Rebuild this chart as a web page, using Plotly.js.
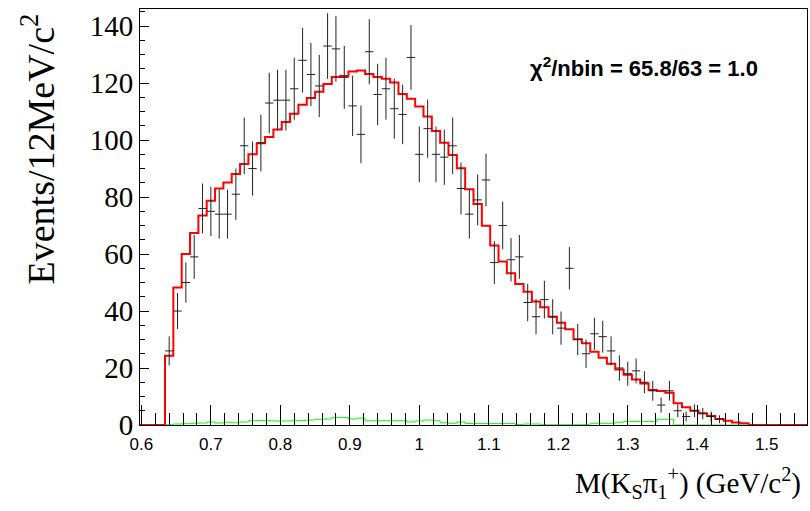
<!DOCTYPE html>
<html>
<head>
<meta charset="utf-8">
<script src="https://cdn.plot.ly/plotly-3.0.1.min.js"></script>
<style>html,body{margin:0;padding:0;background:#fff;}#chart{width:810px;height:511px;}</style>
</head>
<body>
<div id="chart"></div>
<script>
// Binning: 80 bins of 12 MeV
const binLow = 0.598;
const binWidth = 0.012;
const nBins = 80;
const firstDataBin = 3;

// Observed events per bin (starting at bin index 3)
const dataCounts = [26, 40, 50, 59, 76, 75, 74, 74, 81, 98,
  90, 99, 113, 114, 114, 118, 128, 123, 119, 133,
  132, 122, 112, 102, 131, 116, 118, 111, 109, 129,
  95, 104, 95, 94, 98, 83, 74, 79, 86, 57,
  70, 58, 59, 43, 38, 44, 38, 34, 55, 30,
  25, 32, 31, 26, 20, 18, 19, 15, 12, 7,
  12, 5, 3, 5, 4, 3, 2];
const dataErrors = [5.10, 6.32, 7.07, 7.68, 8.72, 8.66, 8.60, 8.60, 9.00, 9.90,
  9.49, 9.95, 10.63, 10.68, 10.68, 10.86, 11.31, 11.09, 10.91, 11.53,
  11.49, 11.05, 10.58, 10.10, 11.45, 10.77, 10.86, 10.54, 10.44, 11.36,
  9.75, 10.20, 9.75, 9.70, 9.90, 9.11, 8.60, 8.89, 9.27, 7.55,
  8.37, 7.62, 7.68, 6.56, 6.16, 6.63, 6.16, 5.83, 7.42, 5.48,
  5.00, 5.66, 5.57, 5.10, 4.47, 4.24, 4.36, 3.87, 3.46, 2.65,
  3.46, 2.24, 1.73, 2.24, 2.00, 1.73, 1.41];

// Total fit (red), all 80 bins
const fitTotal = [0, 0, 0,
  24.3, 48.3, 60.0, 67.4, 73.5, 78.7, 83.0, 85.1, 88.1, 91.6,
  95.0, 98.9, 101.1, 103.7, 106.3, 109.2, 112.4, 114.8, 117.0, 119.7,
  122.1, 122.5, 124.1, 124.4, 123.2, 122.1, 121.5, 120.2, 116.2, 114.5,
  111.8, 108.3, 103.2, 99.1, 94.8, 90.1, 82.7, 77.6, 69.9, 63.0,
  57.4, 53.3, 49.5, 46.8, 43.3, 41.3, 38.0, 35.9, 33.6, 30.1,
  28.7, 25.7, 23.6, 21.5, 19.5, 17.6, 16.0, 14.6, 12.3, 11.9,
  11.3, 7.6, 6.2, 5.0, 4.1, 3.2, 2.1, 1.5, 0.9, 0.6,
  0, 0, 0, 0, 0, 0, 0];

// Background (green), all 80 bins
const background = [0, 0, 0,
  0.1, 0.35, 0.45, 0.6, 0.7, 1.05, 0.7, 0.95, 0.8, 1.05,
  1.5, 1.6, 1.5, 1.4, 1.4, 1.5, 1.6, 1.75, 2.0, 2.1,
  2.6, 2.6, 2.1, 2.4, 1.5, 1.5, 1.5, 1.5, 1.5, 1.05,
  1.4, 1.75, 1.5, 0.8, 0.6, 1.05, 0.5, 0.5, 0.5, 0.5,
  0.5, 0.5, 0.2, 0.35, 0.35, 0.1, 0.1, 0.1, 0.1, 0.1,
  0.1, 0.6, 0.6, 0.6, 0.95, 1.25, 1.25, 1.25, 1.25, 2.0,
  2.0, 0, 0, 0, 0, 0, 0, 0, 0, 0, 0, 0, 0, 0, 0, 0, 0];

const chiText = "χ<sup>2</sup>/nbin = 65.8/63 = 1.0";
const xTitle = "M(K<sub>S</sub>π<sub>1</sub><sup>+</sup>) (GeV/c<sup>2</sup>)";
const yTitle = "Events/12MeV/c<sup>2</sup>";

const edges = [];
for (let i = 0; i <= nBins; i++) edges.push(+(binLow + i * binWidth).toFixed(4));
const stepY = arr => arr.concat([arr[arr.length - 1]]);
const dataX = dataCounts.map((_, i) => +(binLow + (firstDataBin + i + 0.5) * binWidth).toFixed(4));

const traces = [
  { x: edges, y: stepY(background), type: 'scatter', mode: 'lines',
    line: { shape: 'hv', color: '#00ff00', width: 1 }, hoverinfo: 'skip' },
  { x: edges, y: stepY(fitTotal), type: 'scatter', mode: 'lines',
    line: { shape: 'hv', color: '#ff0000', width: 2 }, hoverinfo: 'skip' },
  { x: dataX, y: dataCounts, type: 'scatter', mode: 'markers',
    marker: { size: 1, color: 'rgba(0,0,0,0)' },
    error_y: { type: 'data', array: dataErrors, visible: true, thickness: 1, width: 0, color: '#222' },
    error_x: { type: 'constant', value: binWidth / 2, visible: true, thickness: 1, width: 0, color: '#222' } }
];

const layout = {
  width: 810, height: 511,
  margin: { l: 140, r: 3, t: 9, b: 86 },
  paper_bgcolor: '#fff', plot_bgcolor: '#fff',
  showlegend: false,
  xaxis: {
    range: [binLow, binLow + nBins * binWidth],
    tick0: 0.6, dtick: 0.1, ticks: 'inside', ticklen: 20, tickwidth: 1, tickcolor: '#000',
    minor: { dtick: 0.02, ticks: 'inside', ticklen: 12, tickwidth: 1, tickcolor: '#000' },
    showgrid: false, zeroline: false,
    showline: true, mirror: true, linecolor: '#000', linewidth: 1,
    tickfont: { family: 'Liberation Sans, Arial, sans-serif', size: 17, color: '#000' },
    ticklabelstandoff: 4
  },
  yaxis: {
    range: [0, 146],
    tick0: 0, dtick: 20, ticks: 'inside', ticklen: 9, tickwidth: 1, tickcolor: '#000',
    minor: { dtick: 5, ticks: 'inside', ticklen: 5, tickwidth: 1, tickcolor: '#000' },
    showgrid: false, zeroline: false,
    showline: true, mirror: true, linecolor: '#000', linewidth: 1,
    tickfont: { family: 'Liberation Serif, Times New Roman, serif', size: 29, color: '#000' }
  },
  annotations: [
    { text: chiText, xref: 'paper', yref: 'paper', x: (528 - 140) / 667, y: (425 - 67) / 416,
      xanchor: 'left', yanchor: 'middle', showarrow: false,
      font: { family: 'Liberation Sans, Arial, sans-serif', size: 22, color: '#000', weight: 'bold' } },
    { text: xTitle, xref: 'paper', yref: 'paper', x: (803 - 140) / 667, y: (425 - 483) / 416,
      xanchor: 'right', yanchor: 'middle', showarrow: false,
      font: { family: 'Liberation Serif, Times New Roman, serif', size: 29, color: '#000' } },
    { text: yTitle, xref: 'paper', yref: 'paper', x: (38 - 140) / 667, y: (425 - 12) / 416,
      xanchor: 'center', yanchor: 'top', textangle: -90, showarrow: false,
      font: { family: 'Liberation Serif, Times New Roman, serif', size: 38, color: '#000' } }
  ]
};

Plotly.newPlot('chart', traces, layout, { displayModeBar: false, staticPlot: true });
</script>
</body>
</html>
